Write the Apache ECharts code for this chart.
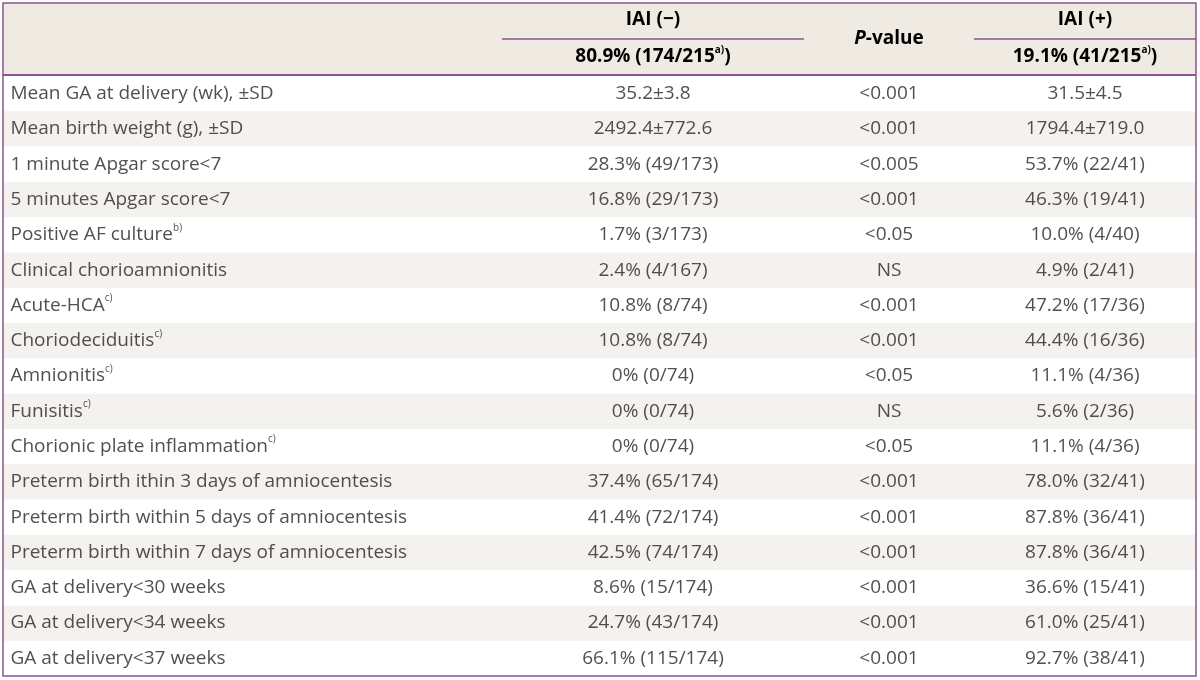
<!DOCTYPE html>
<html>
<head>
<meta charset="utf-8">
<script src="https://cdn.jsdelivr.net/npm/echarts@6/dist/echarts.min.js"></script>
<style>html,body{margin:0;padding:0;background:#fff}#c{width:1200px;height:680px}</style>
</head>
<body>
<div id="c"></div>
<script>
// ---- data ----
var rowLabels = [
  'Mean GA at delivery (wk), \u00b1SD',
  'Mean birth weight (g), \u00b1SD',
  '1 minute Apgar score<7',
  '5 minutes Apgar score<7',
  'Positive AF culture',
  'Clinical chorioamnionitis',
  'Acute-HCA',
  'Choriodeciduitis',
  'Amnionitis',
  'Funisitis',
  'Chorionic plate inflammation',
  'Preterm birth ithin 3 days of amniocentesis',
  'Preterm birth within 5 days of amniocentesis',
  'Preterm birth within 7 days of amniocentesis',
  'GA at delivery<30 weeks',
  'GA at delivery<34 weeks',
  'GA at delivery<37 weeks'
];
var rowNotes = ['', '', '', '', 'b)', '', 'c)', 'c)', 'c)', 'c)', 'c)', '', '', '', '', '', ''];
var iaiNeg = [
  '35.2\u00b13.8', '2492.4\u00b1772.6', '28.3% (49/173)', '16.8% (29/173)', '1.7% (3/173)',
  '2.4% (4/167)', '10.8% (8/74)', '10.8% (8/74)', '0% (0/74)', '0% (0/74)', '0% (0/74)',
  '37.4% (65/174)', '41.4% (72/174)', '42.5% (74/174)', '8.6% (15/174)', '24.7% (43/174)', '66.1% (115/174)'
];
var pValues = [
  '<0.001', '<0.001', '<0.005', '<0.001', '<0.05', 'NS', '<0.001', '<0.001', '<0.05', 'NS', '<0.05',
  '<0.001', '<0.001', '<0.001', '<0.001', '<0.001', '<0.001'
];
var iaiPos = [
  '31.5\u00b14.5', '1794.4\u00b1719.0', '53.7% (22/41)', '46.3% (19/41)', '10.0% (4/40)',
  '4.9% (2/41)', '47.2% (17/36)', '44.4% (16/36)', '11.1% (4/36)', '5.6% (2/36)', '11.1% (4/36)',
  '78.0% (32/41)', '87.8% (36/41)', '87.8% (36/41)', '36.6% (15/41)', '61.0% (25/41)', '92.7% (38/41)'
];
var headNegTitle = 'IAI (\u2212)';
var headNegSub = ['80.9% (174/215', 'a)', ')'];
var headPTitle = ['P', '-value'];
var headPosTitle = 'IAI (+)';
var headPosSub = ['19.1% (41/215', 'a)', ')'];

// ---- layout / style ----
var FONT = 'Open Sans';
var FS = 19;
var TXT = '#262324';
var PURPLE = '#8c5391';
var HEAD_BG = '#efebe3';
var STRIPE = '#f4f2ee';
var X0 = 3, X1 = 1196, Y0 = 3, YH = 75, Y1 = 676;
var colX = { label: 7, neg: 650, p: 886, pos: 1082 }; // axis units (pixels from grid left)

var rich = {
  n: { fontFamily: FONT, fontSize: FS, color: TXT, lineHeight: 24 },
  s: { fontFamily: FONT, fontSize: 10, color: TXT, lineHeight: 11, verticalAlign: 'top' }
};
var richB = {
  n: { fontFamily: FONT, fontSize: FS, fontWeight: 'bold', color: TXT, lineHeight: 24 },
  s: { fontFamily: FONT, fontSize: 10, fontWeight: 'bold', color: TXT, lineHeight: 11, verticalAlign: 'top' },
  i: { fontFamily: FONT, fontSize: FS, fontWeight: 'bold', fontStyle: 'italic', color: TXT, lineHeight: 24 }
};

var idx = rowLabels.map(function (_, i) { return i; });

function textSeries(key, arr, align) {
  return {
    type: 'scatter',
    symbolSize: 1,
    itemStyle: { color: 'rgba(0,0,0,0)' },
    silent: true,
    data: arr.map(function (v, i) { return [colX[key], i]; }),
    label: {
      show: true,
      position: align === 'left' ? 'right' : 'inside',
      distance: 0,
      align: align === 'left' ? 'left' : 'center',
      verticalAlign: 'middle',
      rich: rich,
      formatter: function (p) {
        var i = p.dataIndex;
        var s = '{n|' + arr[i] + '}';
        if (key === 'label' && rowNotes[i]) s += '{s|' + rowNotes[i] + '}';
        return s;
      }
    },
    labelLayout: { hideOverlap: false },
    z: 5
  };
}

var chart = echarts.init(document.getElementById('c'), null, { renderer: 'canvas' });
var option = {
  animation: false,
  backgroundColor: '#ffffff',
  grid: { left: X0, right: 1200 - X1, top: YH + 1, bottom: 680 - Y1, containLabel: false },
  xAxis: { type: 'value', min: 0, max: X1 - X0, show: false },
  yAxis: { type: 'category', data: rowLabels, inverse: true, show: false, boundaryGap: true },
  series: [
    {
      type: 'custom',
      silent: true,
      data: idx,
      encode: { y: 0 },
      renderItem: function (params, api) {
        var i = api.value(0);
        if (i % 2 === 0) return null;
        var c = api.coord([0, i]);
        var h = api.size([0, 1])[1];
        return {
          type: 'rect',
          shape: { x: params.coordSys.x, y: c[1] - h / 2, width: params.coordSys.width, height: h },
          style: { fill: STRIPE }
        };
      },
      z: 1
    },
    textSeries('label', rowLabels, 'left'),
    textSeries('neg', iaiNeg, 'center'),
    textSeries('p', pValues, 'center'),
    textSeries('pos', iaiPos, 'center')
  ],
  graphic: [
    { type: 'rect', z: 0, shape: { x: X0, y: Y0, width: X1 - X0, height: YH - Y0 }, style: { fill: HEAD_BG } },
    { type: 'line', z: 10, shape: { x1: 502, y1: 39, x2: 804, y2: 39 }, style: { stroke: PURPLE, lineWidth: 1.5 } },
    { type: 'line', z: 10, shape: { x1: 974, y1: 39, x2: X1, y2: 39 }, style: { stroke: PURPLE, lineWidth: 1.5 } },
    { type: 'line', z: 10, shape: { x1: X0, y1: YH, x2: X1, y2: YH }, style: { stroke: PURPLE, lineWidth: 2 } },
    { type: 'rect', z: 20, shape: { x: X0, y: Y0, width: X1 - X0, height: Y1 - Y0 }, style: { fill: 'none', stroke: PURPLE, lineWidth: 1.5 } },
    { type: 'text', z: 11, x: 653, y: 20, style: { text: '{n|' + headNegTitle + '}', rich: richB, align: 'center', verticalAlign: 'middle' } },
    { type: 'text', z: 11, x: 653, y: 57, style: { text: '{n|' + headNegSub[0] + '}{s|' + headNegSub[1] + '}{n|' + headNegSub[2] + '}', rich: richB, align: 'center', verticalAlign: 'middle' } },
    { type: 'text', z: 11, x: 889, y: 39, style: { text: '{i|' + headPTitle[0] + '}{n|' + headPTitle[1] + '}', rich: richB, align: 'center', verticalAlign: 'middle' } },
    { type: 'text', z: 11, x: 1085, y: 20, style: { text: '{n|' + headPosTitle + '}', rich: richB, align: 'center', verticalAlign: 'middle' } },
    { type: 'text', z: 11, x: 1085, y: 57, style: { text: '{n|' + headPosSub[0] + '}{s|' + headPosSub[1] + '}{n|' + headPosSub[2] + '}', rich: richB, align: 'center', verticalAlign: 'middle' } }
  ]
};
chart.setOption(option);
</script>
</body>
</html>
